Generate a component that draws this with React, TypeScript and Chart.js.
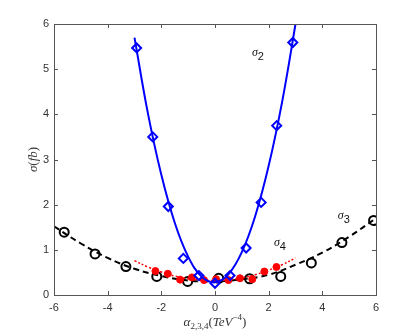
import React, { useEffect, useRef } from "react";
import { Chart, registerables } from "chart.js";

Chart.register(...registerables);

// sigma_2 : simulated points (blue diamonds) and fitted curve
const sigma2X = [-2.92, -2.32, -1.74, -1.18, -0.6, 0.0, 0.56, 1.16, 1.72, 2.3, 2.9];
const sigma2Y = [5.47, 3.5, 1.96, 0.81, 0.43, 0.26, 0.43, 1.04, 2.05, 3.75, 5.59];
const fit2X = [-3, -2.5, -2, -1.5, -1, -0.5, 0, 0.5, 1, 1.5, 2, 2.5, 3, 3.1];
const fit2Y = [5.7, 4.02, 2.66, 1.6, 0.85, 0.41, 0.28, 0.46, 0.95, 1.75, 2.86, 4.27, 6.0, 6.4];

// sigma_3 : black circles and dashed fit
const sigma3X = [-5.62, -4.47, -3.32, -2.17, -1.02, 0.14, 1.29, 2.45, 3.59, 4.73, 5.91];
const sigma3Y = [1.39, 0.91, 0.63, 0.41, 0.3, 0.37, 0.36, 0.41, 0.71, 1.16, 1.65];
const fit3X = [-6, -5, -4, -3, -2, -1, 0, 1, 2, 3, 4, 5, 6];
const fit3Y = [1.52, 1.14, 0.82, 0.58, 0.42, 0.32, 0.3, 0.35, 0.45, 0.67, 0.94, 1.29, 1.7];

// sigma_4 : red dots and dotted fit
const sigma4X = [-2.22, -1.76, -1.3, -0.86, -0.41, 0.04, 0.5, 0.93, 1.39, 1.84, 2.29];
const sigma4Y = [0.53, 0.47, 0.34, 0.39, 0.33, 0.35, 0.33, 0.37, 0.35, 0.52, 0.62];
const fit4X = [-3, -2.5, -2, -1.5, -1, -0.5, 0, 0.5, 1, 1.5, 2, 2.5, 3];
const fit4Y = [0.76, 0.62, 0.51, 0.42, 0.36, 0.33, 0.32, 0.34, 0.38, 0.45, 0.55, 0.67, 0.82];

const xTicks = [-6, -4, -2, 0, 2, 4, 6];
const yTicks = [0, 1, 2, 3, 4, 5, 6];

// curve labels (data coordinates)
const curveLabels = [
  { sub: "2", x: 1.6, y: 5.39 },
  { sub: "3", x: 4.8, y: 1.78 },
  { sub: "4", x: 2.42, y: 1.18 },
];

const pts = (xs: number[], ys: number[]) => xs.map((x, i) => ({ x, y: ys[i] }));

type Seg = { t: string; font: string; dy?: number };
function drawRich(ctx: CanvasRenderingContext2D, segs: Seg[], cx: number, cy: number) {
  let w = 0;
  for (const s of segs) {
    ctx.font = s.font;
    w += ctx.measureText(s.t).width;
  }
  let x = cx - w / 2;
  for (const s of segs) {
    ctx.font = s.font;
    ctx.fillText(s.t, x, cy + (s.dy || 0));
    x += ctx.measureText(s.t).width;
  }
}

const framePlugin = {
  id: "frame",
  afterDraw(chart: any) {
    const { ctx, chartArea: a, scales } = chart;
    const xs = scales.x;
    const ys = scales.y;
    ctx.save();
    ctx.strokeStyle = "#555";
    ctx.lineWidth = 1;
    ctx.strokeRect(Math.round(a.left) + 0.5, Math.round(a.top) + 0.5, Math.round(a.right - a.left), Math.round(a.bottom - a.top));
    const tl = 4;
    ctx.beginPath();
    for (const v of xTicks) {
      const p = Math.round(xs.getPixelForValue(v)) + 0.5;
      ctx.moveTo(p, a.bottom);
      ctx.lineTo(p, a.bottom - tl);
      ctx.moveTo(p, a.top);
      ctx.lineTo(p, a.top + tl);
    }
    for (const v of yTicks) {
      const p = Math.round(ys.getPixelForValue(v)) + 0.5;
      ctx.moveTo(a.left, p);
      ctx.lineTo(a.left + tl, p);
      ctx.moveTo(a.right, p);
      ctx.lineTo(a.right - tl, p);
    }
    ctx.stroke();

    ctx.fillStyle = "#111";
    ctx.textBaseline = "alphabetic";
    ctx.textAlign = "left";
    for (const l of curveLabels) {
      const px = xs.getPixelForValue(l.x);
      const py = ys.getPixelForValue(l.y);
      drawRich(
        ctx,
        [
          { t: "σ", font: "italic 12px 'Liberation Serif'" },
          { t: l.sub, font: "11px 'Liberation Sans'", dy: 4 },
        ],
        px,
        py + 4
      );
    }

    ctx.fillStyle = "#333";
    // x axis title
    drawRich(
      ctx,
      [
        { t: "α", font: "italic 13px 'Liberation Serif'" },
        { t: "2,3,4", font: "9px 'Liberation Serif'", dy: 3 },
        { t: "(", font: "13px 'Liberation Serif'" },
        { t: "TeV", font: "italic 13px 'Liberation Serif'" },
        { t: "−4", font: "9px 'Liberation Serif'", dy: -6 },
        { t: ")", font: "13px 'Liberation Serif'" },
      ],
      (a.left + a.right) / 2,
      326
    );
    // y axis title
    ctx.save();
    ctx.translate(37, (a.top + a.bottom) / 2);
    ctx.rotate(-Math.PI / 2);
    drawRich(
      ctx,
      [
        { t: "σ", font: "italic 13px 'Liberation Serif'" },
        { t: "(", font: "13px 'Liberation Serif'" },
        { t: "fb", font: "italic 13px 'Liberation Serif'" },
        { t: ")", font: "13px 'Liberation Serif'" },
      ],
      0,
      0
    );
    ctx.restore();
    ctx.restore();
  },
};

export default function App() {
  const ref = useRef<HTMLCanvasElement>(null);
  useEffect(() => {
    if (!ref.current) return;
    const chart = new Chart(ref.current, {
      type: "scatter",
      data: {
        datasets: [
          {
            data: pts(fit2X, fit2Y),
            showLine: true,
            borderColor: "#0000ff",
            borderWidth: 2,
            pointRadius: 0,
            tension: 0.4,
            order: 1,
          },
          {
            data: pts(sigma2X, sigma2Y),
            pointStyle: "rectRot",
            pointRadius: 4.5,
            borderColor: "#0000ff",
            backgroundColor: "rgba(0,0,0,0)",
            pointBorderWidth: 2,
            order: 0,
          },
          {
            data: pts(fit3X, fit3Y),
            showLine: true,
            borderColor: "#000",
            borderWidth: 2,
            borderDash: [6, 4],
            pointRadius: 0,
            tension: 0.4,
            order: 4,
          },
          {
            data: pts(sigma3X, sigma3Y),
            pointStyle: "circle",
            pointRadius: 4.5,
            borderColor: "#000",
            backgroundColor: "rgba(0,0,0,0)",
            pointBorderWidth: 2,
            order: 3,
          },
          {
            data: pts(fit4X, fit4Y),
            showLine: true,
            borderColor: "#ff0000",
            borderWidth: 1.5,
            borderDash: [2, 2],
            pointRadius: 0,
            tension: 0.4,
            order: 2,
          },
          {
            data: pts(sigma4X, sigma4Y),
            pointStyle: "circle",
            pointRadius: 3.5,
            borderColor: "#ff0000",
            backgroundColor: "#ff0000",
            pointBorderWidth: 1,
            order: 2,
          },
        ],
      },
      options: {
        responsive: false,
        animation: false,
        layout: { padding: { top: 24, right: 39, left: 0, bottom: 0 } },
        plugins: { legend: { display: false }, tooltip: { enabled: false } },
        scales: {
          x: {
            type: "linear",
            min: -6,
            max: 6,
            afterBuildTicks: (s: any) => {
              s.ticks = xTicks.map((v) => ({ value: v }));
            },
            afterFit: (s: any) => {
              s.height = 37;
            },
            grid: { display: false, drawTicks: false, tickLength: 0 },
            border: { display: false },
            ticks: {
              padding: 6,
              color: "#333",
              font: { family: "'Liberation Sans'", size: 11 },
              maxRotation: 0,
            },
          },
          y: {
            type: "linear",
            min: 0,
            max: 6,
            afterBuildTicks: (s: any) => {
              s.ticks = yTicks.map((v) => ({ value: v }));
            },
            afterFit: (s: any) => {
              s.width = 54;
            },
            grid: { display: false, drawTicks: false, tickLength: 0 },
            border: { display: false },
            ticks: {
              padding: 5,
              color: "#333",
              font: { family: "'Liberation Sans'", size: 11 },
            },
          },
        },
      },
      plugins: [framePlugin],
    } as any);
    return () => chart.destroy();
  }, []);
  return (
    <div style={{ position: "fixed", left: 0, top: 0, width: 415, height: 332, background: "#fff" }}>
      <canvas ref={ref} width={415} height={332} style={{ width: 415, height: 332 }} />
    </div>
  );
}
